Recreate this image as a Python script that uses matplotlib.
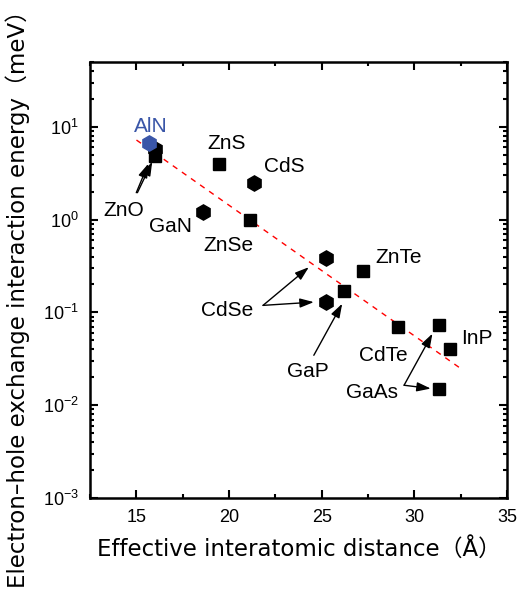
import matplotlib
matplotlib.use('Agg')
import matplotlib.pyplot as plt
from matplotlib.ticker import MultipleLocator, LogLocator, NullFormatter
import numpy as np

plt.rcParams['font.family'] = ['Liberation Sans', 'Noto Sans CJK JP', 'DejaVu Sans']
plt.rcParams['mathtext.fontset'] = 'custom'
plt.rcParams['mathtext.rm'] = 'Liberation Sans'

# hexagon markers (wurtzite-like)
hex_names = ['ZnO', 'GaN', 'CdS', 'CdSe', 'CdSe']
hex_x = [16.0, 18.6, 21.35, 25.25, 25.25]
hex_y = [5.7, 1.2, 2.45, 0.39, 0.129]

# square markers
sq_names = ['ZnO', 'ZnS', 'ZnSe', 'ZnTe', 'GaP', 'CdTe', 'GaAs', 'InP', 'GaAs']
sq_x = [16.0, 19.45, 21.1, 27.2, 26.2, 29.1, 31.35, 31.9, 31.35]
sq_y = [4.9, 3.97, 1.0, 0.278, 0.172, 0.0695, 0.0738, 0.040, 0.0149]

# AlN
aln_x = [15.65]
aln_y = [6.7]

# dashed fit line end points
fit_x = [15.0, 32.5]
fit_y = [7.2, 0.0248]

fig = plt.figure(figsize=(5.18, 5.90), dpi=100)
ax = fig.add_axes([0.174, 0.156, 0.805, 0.739])

xx = np.linspace(fit_x[0], fit_x[1], 100)
slope = (np.log10(fit_y[1]) - np.log10(fit_y[0])) / (fit_x[1] - fit_x[0])
yy = 10 ** (np.log10(fit_y[0]) + slope * (xx - fit_x[0]))
ax.plot(xx, yy, color='red', linestyle=(0, (4, 4)), linewidth=1.0, zorder=1)

ax.plot(hex_x, hex_y, marker='h', markersize=11, color='black', linestyle='none', zorder=3)
ax.plot(sq_x, sq_y, marker='s', markersize=8.5, color='black', linestyle='none', zorder=3)
ax.plot(aln_x, aln_y, marker='h', markersize=11, color='#3a56a8', linestyle='none', zorder=4)

ax.set_yscale('log')
ax.set_xlim(12.5, 35)
ax.set_ylim(1e-3, 50)

ax.xaxis.set_major_locator(MultipleLocator(5))
ax.xaxis.set_minor_locator(MultipleLocator(2.5))
ax.yaxis.set_major_locator(LogLocator(base=10, numticks=10))
ax.yaxis.set_minor_locator(LogLocator(base=10, subs=np.arange(2, 10), numticks=20))
ax.yaxis.set_minor_formatter(NullFormatter())
ax.tick_params(which='both', direction='in', top=True, right=True, width=1.5)
ax.tick_params(which='major', length=6, labelsize=13, pad=8)
ax.tick_params(which='minor', length=3)
for s in ax.spines.values():
    s.set_linewidth(1.8)

lab_font = ['DejaVu Sans', 'Noto Sans CJK JP']
ax.set_xlabel('Effective interatomic distance（Å）', fontsize=16.5, family=lab_font)
ax.set_ylabel('Electron\u2013hole exchange interaction energy（meV）', fontsize=16.5, family=lab_font)
ax.xaxis.set_label_coords(0.5, -0.089)
ax.yaxis.set_label_coords(-0.144, 0.47)

fs = 15
ax.text(15.77, 10.2, 'AlN', color='#3a56a8', fontsize=fs, ha='center', va='center')
ax.text(19.85, 6.56, 'ZnS', fontsize=fs, ha='center', va='center')
ax.text(22.99, 3.76, 'CdS', fontsize=fs, ha='center', va='center')
ax.text(14.34, 1.25, 'ZnO', fontsize=fs, ha='center', va='center')
ax.text(16.82, 0.84, 'GaN', fontsize=fs, ha='center', va='center')
ax.text(19.96, 0.525, 'ZnSe', fontsize=fs, ha='center', va='center')
ax.text(19.88, 0.104, 'CdSe', fontsize=fs, ha='center', va='center')
ax.text(29.13, 0.395, 'ZnTe', fontsize=fs, ha='center', va='center')
ax.text(24.26, 0.0232, 'GaP', fontsize=fs, ha='center', va='center')
ax.text(28.34, 0.0342, 'CdTe', fontsize=fs, ha='center', va='center')
ax.text(27.69, 0.0136, 'GaAs', fontsize=fs, ha='center', va='center')
ax.text(33.36, 0.0525, 'InP', fontsize=fs, ha='center', va='center')

arr = dict(arrowstyle='-|>,head_length=0.6,head_width=0.2', color='black', lw=1.0,
           mutation_scale=14, shrinkA=0, shrinkB=0)
ax.annotate('', xy=(15.64, 4.0), xytext=(14.99, 1.95), arrowprops=arr)
ax.annotate('', xy=(15.85, 4.2), xytext=(15.05, 1.95), arrowprops=arr)
ax.annotate('', xy=(24.3, 0.307), xytext=(21.83, 0.119), arrowprops=arr)
ax.annotate('', xy=(24.57, 0.129), xytext=(21.83, 0.119), arrowprops=arr)
ax.annotate('', xy=(26.1, 0.124), xytext=(24.57, 0.0345), arrowprops=arr)
ax.annotate('', xy=(30.97, 0.059), xytext=(29.44, 0.0164), arrowprops=arr)
ax.annotate('', xy=(30.88, 0.0151), xytext=(29.44, 0.0164), arrowprops=arr)

fig.savefig('out.png', dpi=100)
